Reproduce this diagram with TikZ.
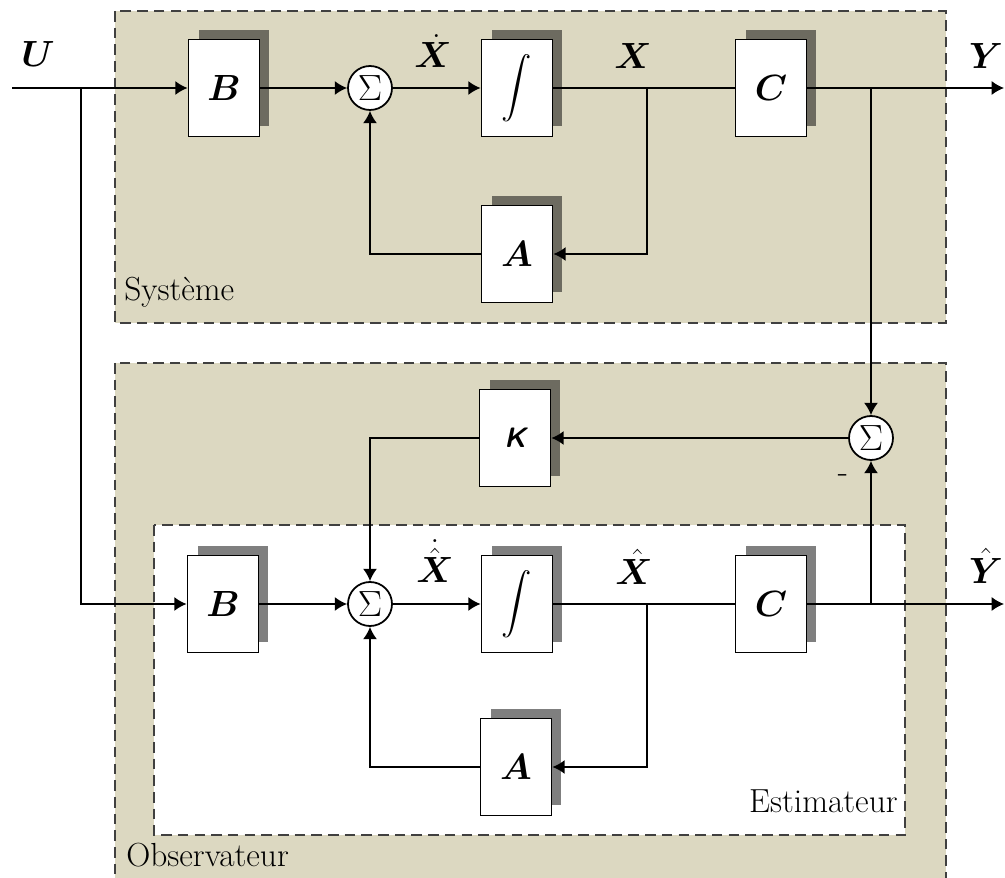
\documentclass[tikz,border=0pt]{standalone}
\usepackage{fontspec}
\usepackage{amsmath,bm}
\usetikzlibrary{shadows,arrows.meta}
\definecolor{beige}{RGB}{220,216,193}
\definecolor{frame}{RGB}{64,64,64}
\begin{document}
\begin{tikzpicture}[x=0.02cm, y=-0.02cm]
        \tikzstyle{blk} = [draw, fill=white, line width=1pt, minimum width=1.42cm, minimum height=1.94cm, inner sep=0pt, font=\fontsize{20}{24}\selectfont, drop shadow={shadow xshift=0.2cm, shadow yshift=0.2cm, opacity=0.5, fill=black}]
        \tikzstyle{sumnode} = [draw, fill=white, circle, line width=1pt, minimum size=0.88cm, inner sep=0pt, font=\fontsize{22}{26}\selectfont]
        \tikzstyle{sig} = [inner sep=0pt, font=\fontsize{20}{24}\selectfont]
        \tikzstyle{lbl} = [inner sep=0pt, font=\fontsize{19}{22}\selectfont]
        \tikzstyle{zone} = [draw=frame, line width=1.2pt, dash pattern=on 6pt off 3.5pt]
        \tikzstyle{wire} = [line width=1pt, >={Latex[length=7pt, width=8pt]}]
        \useasboundingbox (0,0) rectangle (1005,878);
        \draw[zone, fill=beige] (115,11) rectangle (946,323);
        \draw[zone, fill=beige] (115,363) rectangle (946,900);
        \draw[zone, fill=white] (154,525) rectangle (905,835);
        \node[lbl, anchor=base west] (sys) at (124,301) {Système};
        \node[lbl, anchor=base east] (est) at (898,812) {Estimateur};
        \node[lbl, anchor=base west] (obs) at (126,866) {Observateur};
        \node[blk] (B1) at (224,88) {$\bm{B}$};
        \node[sumnode] (S1) at (370,88) {$\Sigma$};
        \node[blk] (I1) at (517,88) {\fontsize{17}{20}\selectfont$\displaystyle\int$};
        \node[blk] (C1) at (771,88) {$\bm{C}$};
        \node[blk] (A1) at (517,254) {$\bm{A}$};
        \node[blk] (K) at (515,438) {\fontsize{16}{18}\selectfont\sffamily\bfseries\itshape K};
        \node[sumnode] (S2) at (871,438) {$\Sigma$};
        \node[blk] (B2) at (223,604) {$\bm{B}$};
        \node[sumnode] (S3) at (370,604) {$\Sigma$};
        \node[blk] (I2) at (517,604) {\fontsize{17}{20}\selectfont$\displaystyle\int$};
        \node[blk] (C2) at (771,604) {$\bm{C}$};
        \node[blk] (A2) at (516,767) {$\bm{A}$};
        \node[sig] (u) at (38,54) {$\bm{U}$};
        \node[sig] (xd) at (433,51) {$\dot{\bm{X}}$};
        \node[sig] (x) at (633,56) {$\bm{X}$};
        \node[sig] (y) at (986,56) {$\bm{Y}$};
        \node[sig] (xhd) at (435,561) {$\dot{\hat{\bm{X}}}$};
        \node[sig] (xh) at (634,567) {$\hat{\bm{X}}$};
        \node[sig] (yh) at (986,566) {$\hat{\bm{Y}}$};
        \node[lbl] (minus) at (843,479) {-};
        \coordinate (Uin) at (12,88);
        \coordinate (Ubr) at (81,88);
        \coordinate (Xbr) at (647,88);
        \coordinate (Ybr) at (871,88);
        \coordinate (Yout) at (1004,88);
        \coordinate (Xhbr) at (647,604);
        \coordinate (Yhbr) at (871,604);
        \coordinate (Yhout) at (1004,604);
        \draw[wire, ->] (Uin) -- (B1);
        \draw[wire, ->] (Ubr) |- (B2);
        \draw[wire, ->] (B1) -- (S1);
        \draw[wire, ->] (S1) -- (I1);
        \draw[wire] (I1) -- (C1);
        \draw[wire, ->] (C1) -- (Yout);
        \draw[wire, ->] (Xbr) |- (A1);
        \draw[wire, ->] (A1) -| (S1);
        \draw[wire, ->] (Ybr) -- (S2);
        \draw[wire, ->] (S2) -- (K);
        \draw[wire, ->] (K) -| (S3);
        \draw[wire, ->] (B2) -- (S3);
        \draw[wire, ->] (S3) -- (I2);
        \draw[wire] (I2) -- (C2);
        \draw[wire, ->] (C2) -- (Yhout);
        \draw[wire, ->] (Xhbr) |- (A2);
        \draw[wire, ->] (A2) -| (S3);
        \draw[wire, ->] (Yhbr) -- (S2);
      \end{tikzpicture}
\end{document}
